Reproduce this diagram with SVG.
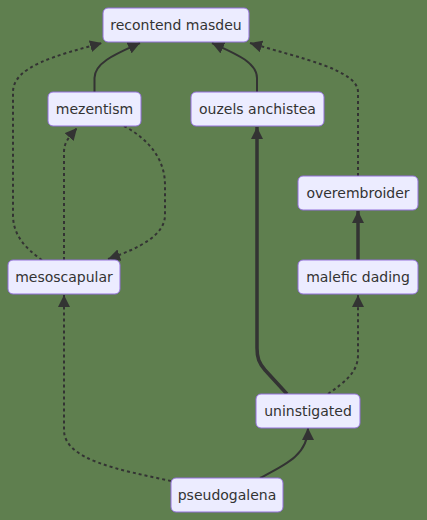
<svg xmlns="http://www.w3.org/2000/svg" width="427" height="520" viewBox="0 0 427 520">
<style>
.node rect{fill:#ECECFF;stroke:#9370DB;stroke-width:1}
.node text{font-family:"DejaVu Sans",sans-serif;font-size:14px;fill:#333333;text-anchor:middle;dominant-baseline:central}
.edge{fill:none;stroke:#333333;stroke-width:2}
.dotted{stroke-dasharray:3 3}
.thick{stroke-width:3.5}
</style>
<defs>
<marker id="arrow" markerUnits="userSpaceOnUse" viewBox="0 0 10 10" refX="10" refY="5" markerWidth="12" markerHeight="12" orient="auto">
<path d="M0,0 L10,5 L0,10 z" fill="#333333"/>
</marker>
</defs>
<rect width="427" height="520" fill="#5F7F4F"/>
<g id="connectors">
<path class="edge" d="M94.5,92 V78 C94.5,62 118,53 140,43" marker-end="url(#arrow)"/>
<path class="edge" d="M257,92 V78 C257,62 234,53 212,43" marker-end="url(#arrow)"/>
<path class="edge dotted" d="M42,260 C25,248 13,235 13,215 V92 C13,66 58,55 102,43" marker-end="url(#arrow)"/>
<path class="edge dotted" d="M64,260 V152 C64,142 70,136 77,128" marker-end="url(#arrow)"/>
<path class="edge dotted" d="M124,126 C150,140 165,160 165,185 V215 C165,235 140,248 108,259" marker-end="url(#arrow)"/>
<path class="edge thick" d="M287,394 L265,370 C259,363 257,358 257,348 V127" marker-end="url(#arrow)"/>
<path class="edge dotted" d="M328,394 C345,382 358,372 358,355 V295" marker-end="url(#arrow)"/>
<path class="edge thick" d="M358,260 V211" marker-end="url(#arrow)"/>
<path class="edge dotted" d="M358,176 V92 C358,70 300,58 250,43" marker-end="url(#arrow)"/>
<path class="edge" d="M260,478 C285,465 308,455 308,428" marker-end="url(#arrow)"/>
<path class="edge dotted" d="M171,481 C120,470 64,460 64,430 V295" marker-end="url(#arrow)"/>
</g>
<g id="recontend-masdeu" class="node"><rect x="103" y="8" width="146" height="34" rx="5"/><text x="176" y="25">recontend masdeu</text></g>
<g id="mezentism" class="node"><rect x="48" y="92" width="93" height="34" rx="5"/><text x="94.5" y="109">mezentism</text></g>
<g id="ouzels-anchistea" class="node"><rect x="191" y="92" width="133" height="34" rx="5"/><text x="257.5" y="109">ouzels anchistea</text></g>
<g id="overembroider" class="node"><rect x="298" y="176" width="120" height="34" rx="5"/><text x="358" y="193">overembroider</text></g>
<g id="mesoscapular" class="node"><rect x="8" y="260" width="112" height="34" rx="5"/><text x="64" y="277">mesoscapular</text></g>
<g id="malefic-dading" class="node"><rect x="298" y="260" width="120" height="34" rx="5"/><text x="358" y="277">malefic dading</text></g>
<g id="uninstigated" class="node"><rect x="256" y="394" width="104" height="34" rx="5"/><text x="308" y="411">uninstigated</text></g>
<g id="pseudogalena" class="node"><rect x="171" y="478" width="112" height="34" rx="5"/><text x="227" y="495">pseudogalena</text></g>
</svg>
